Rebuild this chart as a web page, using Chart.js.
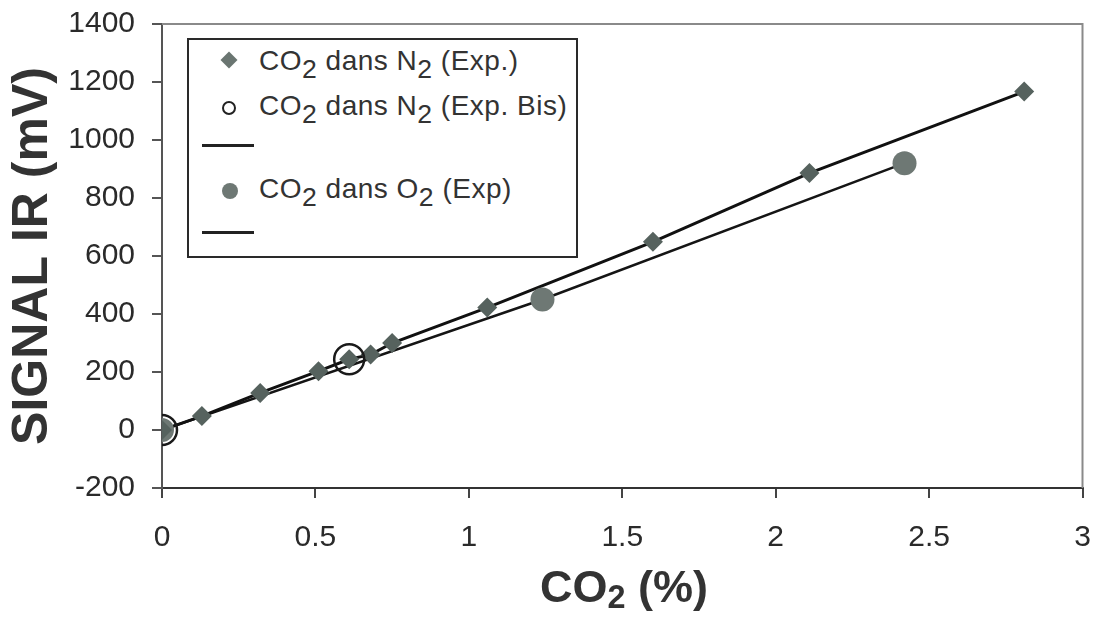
<!DOCTYPE html>
<html>
<head>
<meta charset="utf-8">
<script src="https://cdn.jsdelivr.net/npm/chart.js@4.4.1/dist/chart.umd.min.js"></script>
<style>
  body { margin: 0; background: #fff; }
  #wrap { position: relative; width: 1100px; height: 617px; }
  #legendBox {
    position: absolute; left: 187px; top: 38px; width: 387px; height: 216px;
    border: 2px solid #2a2a2a; background: #fff;
    font-family: 'Liberation Sans', Arial, sans-serif; color: #333;
  }
  .lg-text { position: absolute; left: 70px; font-size: 28px; letter-spacing: 0.5px; line-height: 1; white-space: nowrap; }
  .lg-text sub { font-size: 0.95em; vertical-align: -0.3em; line-height: 0; }
  .mk { position: absolute; }
  #xTitle {
    position: absolute; left: 524px; width: 200px; top: 564px; text-align: center;
    font-family: 'Liberation Sans', Arial, sans-serif; font-weight: bold; font-size: 45px;
    color: #333; line-height: 1; white-space: nowrap;
  }
  #xTitle sub { font-size: 0.72em; vertical-align: -0.2em; line-height: 0; }
</style>
</head>
<body>
<div id="wrap">
  <canvas id="chart" width="1100" height="617"></canvas>
  <div id="legendBox">
    <div class="mk" style="left:34px;top:14px;width:12px;height:12px;background:#6a7571;transform:rotate(45deg);"></div>
    <div class="lg-text" style="top:7px;">CO<sub>2</sub> dans N<sub>2</sub> (Exp.)</div>
    <div class="mk" style="left:33px;top:61px;width:10px;height:10px;border:2px solid #222;border-radius:50%;"></div>
    <div class="lg-text" style="top:52px;">CO<sub>2</sub> dans N<sub>2</sub> (Exp. Bis)</div>
    <div class="mk" style="left:13px;top:104px;width:52px;height:3px;background:#222;"></div>
    <div class="mk" style="left:33px;top:143px;width:16px;height:16px;border-radius:50%;background:#6e7874;"></div>
    <div class="lg-text" style="top:135px;">CO<sub>2</sub> dans O<sub>2</sub> (Exp)</div>
    <div class="mk" style="left:13px;top:191px;width:52px;height:3px;background:#222;"></div>
  </div>
  <div id="xTitle">CO<sub>2</sub> (%)</div>
</div>
<script>
// CO2 in N2 (Exp.)
const n2X = [0, 0.13, 0.32, 0.51, 0.61, 0.68, 0.75, 1.06, 1.60, 2.11, 2.81];
const n2Y = [0, 48, 128, 203, 244, 260, 300, 422, 649, 886, 1167];
// CO2 in N2 (Exp. Bis)
const bisX = [0, 0.61];
const bisY = [0, 244];
// CO2 in O2 (Exp)
const o2X = [0, 1.24, 2.42];
const o2Y = [0, 450, 920];

const xTicks = [0, 0.5, 1, 1.5, 2, 2.5, 3];
const yTicks = [-200, 0, 200, 400, 600, 800, 1000, 1200, 1400];

const toPoints = (xs, ys) => xs.map((x, i) => ({ x, y: ys[i] }));

const FONT = "'Liberation Sans', Arial, sans-serif";

// frame on top and right of the plot area
const framePlugin = {
  id: 'frame',
  beforeDatasetsDraw(chart) {
    const { ctx, chartArea: a } = chart;
    ctx.save();
    ctx.strokeStyle = '#8a8a8a';
    ctx.lineWidth = 2;
    ctx.beginPath();
    ctx.moveTo(a.left, a.top);
    ctx.lineTo(a.right, a.top);
    ctx.lineTo(a.right, a.bottom);
    ctx.stroke();
    ctx.restore();
  }
};

new Chart(document.getElementById('chart'), {
  type: 'scatter',
  data: {
    datasets: [
      {
        label: 'CO2 dans N2 (Exp.)',
        data: toPoints(n2X, n2Y),
        pointStyle: 'rectRot',
        pointRadius: 10,
        backgroundColor: '#56625e',
        borderColor: '#56625e',
        borderWidth: 0,
        order: 1
      },
      {
        label: 'CO2 dans N2 (Exp. Bis)',
        data: toPoints(bisX, bisY),
        pointStyle: 'circle',
        pointRadius: 15,
        backgroundColor: 'rgba(0,0,0,0)',
        borderColor: '#1a1a1a',
        pointBorderWidth: 2.5,
        order: 0
      },
      {
        label: 'CO2 dans O2 (Exp)',
        data: toPoints(o2X, o2Y),
        pointStyle: 'circle',
        pointRadius: 12,
        backgroundColor: '#6e7874',
        borderColor: '#6e7874',
        borderWidth: 0,
        order: 1
      },
      {
        label: 'N2 line',
        data: toPoints(n2X, n2Y),
        showLine: true,
        pointRadius: 0,
        borderColor: '#111',
        borderWidth: 3,
        order: 2
      },
      {
        label: 'O2 line',
        data: toPoints(o2X, o2Y),
        showLine: true,
        pointRadius: 0,
        borderColor: '#151515',
        borderWidth: 2.5,
        order: 2
      }
    ]
  },
  options: {
    responsive: false,
    animation: false,
    layout: { padding: { top: 24, right: 12, left: 0, bottom: 0 } },
    plugins: {
      legend: { display: false },
      tooltip: { enabled: false }
    },
    scales: {
      x: {
        type: 'linear',
        min: 0,
        max: 3,
        afterFit: (s) => { s.height = 129; s.paddingLeft = 0; s.paddingRight = 0; },
        afterBuildTicks: (s) => { s.ticks = xTicks.map(v => ({ value: v })); },
        grid: { drawOnChartArea: false, tickLength: 10, color: '#444', lineWidth: 2 },
        border: { color: '#333', width: 2 },
        ticks: {
          padding: 22,
          maxRotation: 0,
          color: '#2a2a2a',
          font: { family: FONT, size: 30 },
          callback: (v) => String(v)
        },
        title: { display: false }
      },
      y: {
        type: 'linear',
        min: -200,
        max: 1400,
        afterFit: (s) => { s.width = 162; s.paddingTop = 0; s.paddingBottom = 0; },
        afterBuildTicks: (s) => { s.ticks = yTicks.map(v => ({ value: v })); },
        grid: { drawOnChartArea: false, tickLength: 10, color: '#555', lineWidth: 2 },
        border: { color: '#555', width: 2 },
        ticks: {
          padding: 17,
          color: '#2a2a2a',
          font: { family: FONT, size: 30 },
          callback: (v) => String(v)
        },
        title: {
          display: true,
          text: 'SIGNAL IR (mV)',
          color: '#333',
          font: { family: FONT, size: 50, weight: 'bold' },
          padding: { top: 3, bottom: 0 }
        }
      }
    }
  },
  plugins: [framePlugin]
});
</script>
</body>
</html>
